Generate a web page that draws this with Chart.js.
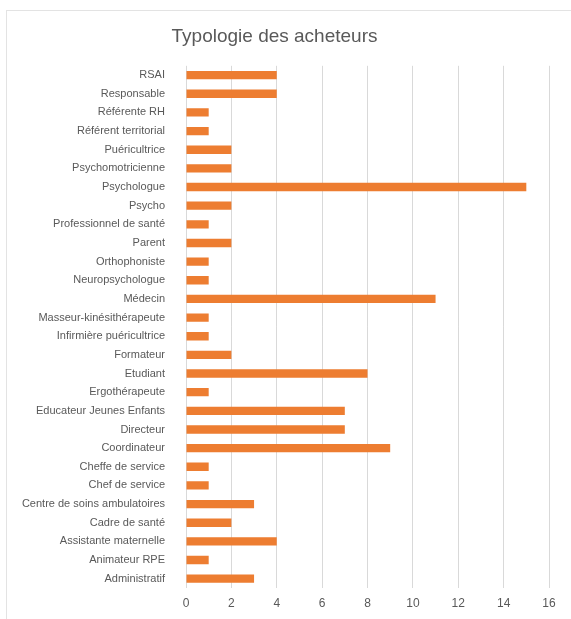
<!DOCTYPE html>
<html lang="fr">
<head>
    <meta charset="UTF-8">
    <title>Typologie des acheteurs</title>
    <script src="https://cdn.jsdelivr.net/npm/chart.js"></script>
    <style>
        body { margin: 0; background: #fff; overflow: hidden; }
        #frame { position: absolute; left: 6px; top: 10px; width: 640px; height: 660px; border: 1px solid #e3e3e3; }
        #wrap { position: absolute; left: 0; top: 0; width: 571px; height: 619px; }
    </style>
</head>
<body>
<div id="frame"></div>
<div id="wrap"><canvas id="myChart" width="571" height="619"></canvas></div>

<script>
    const categories = [
        'RSAI', 'Responsable', 'Référente RH', 'Référent territorial', 'Puéricultrice',
        'Psychomotricienne', 'Psychologue', 'Psycho', 'Professionnel de santé', 'Parent',
        'Orthophoniste', 'Neuropsychologue', 'Médecin', 'Masseur-kinésithérapeute',
        'Infirmière puéricultrice', 'Formateur', 'Etudiant', 'Ergothérapeute',
        'Educateur Jeunes Enfants', 'Directeur', 'Coordinateur', 'Cheffe de service',
        'Chef de service', 'Centre de soins ambulatoires', 'Cadre de santé',
        'Assistante maternelle', 'Animateur RPE', 'Administratif'
    ];
    const counts = [4, 4, 1, 1, 2, 2, 15, 2, 1, 2, 1, 1, 11, 1, 1, 2, 8, 1, 7, 7, 9, 1, 1, 3, 2, 4, 1, 3];
    const xTicks = [0, 2, 4, 6, 8, 10, 12, 14, 16];

    const fontFam = '"Liberation Sans Narrow", "Liberation Sans", Arial, sans-serif';

    const ctx = document.getElementById('myChart').getContext('2d');
    const myChart = new Chart(ctx, {
        type: 'bar',
        data: {
            labels: categories,
            datasets: [{
                data: counts,
                backgroundColor: '#ED7D31',
                barPercentage: 0.45,
                categoryPercentage: 1
            }]
        },
        options: {
            indexAxis: 'y',
            responsive: false,
            animation: false,
            layout: { padding: { top: 3, right: 22, bottom: 6, left: 0 } },
            plugins: {
                legend: { display: false },
                tooltip: { enabled: false },
                title: {
                    display: true,
                    text: 'Typologie des acheteurs',
                    color: '#595959',
                    font: { family: fontFam, size: 19, weight: 'normal' },
                    padding: { top: 22, bottom: 18 }
                }
            },
            scales: {
                x: {
                    min: 0,
                    max: 16,
                    afterBuildTicks: (scale) => { scale.ticks = xTicks.map(v => ({ value: v })); },
                    grid: { color: '#d9d9d9', drawTicks: false },
                    border: { display: false },
                    ticks: { color: '#595959', padding: 8, font: { family: fontFam, size: 12 } },
                    afterFit: (scale) => { scale.height = 25; }
                },
                y: {
                    grid: { display: false },
                    border: { display: false },
                    ticks: { color: '#595959', padding: 13, autoSkip: false, font: { family: fontFam, size: 11 } },
                    afterFit: (scale) => { scale.width = 186; }
                }
            }
        }
    });
</script>
</body>
</html>
